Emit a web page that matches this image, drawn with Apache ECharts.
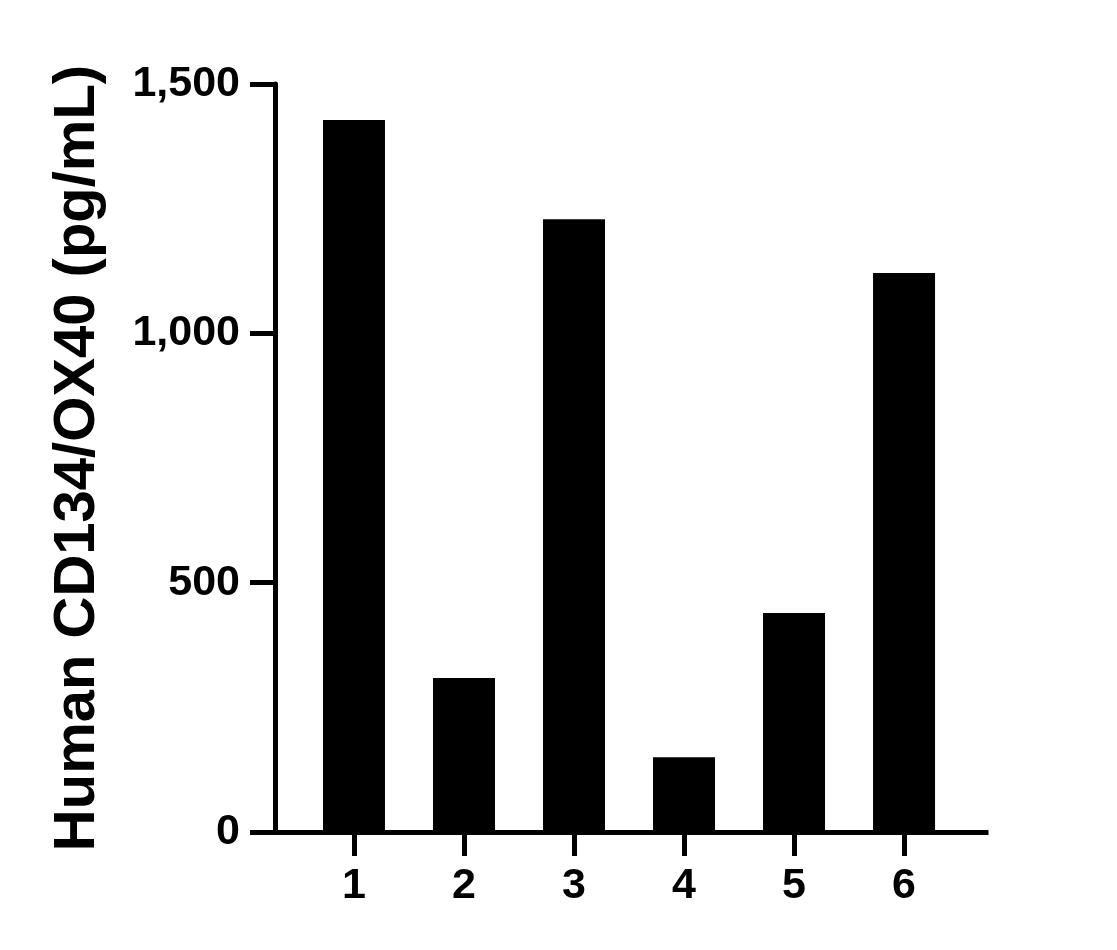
<!DOCTYPE html>
<html>
<head>
<meta charset="utf-8">
<script src="https://cdn.jsdelivr.net/npm/echarts@6/dist/echarts.min.js"></script>
<style>
html,body{margin:0;padding:0;background:#fff;}
#chart{width:1117px;height:950px;}
</style>
</head>
<body>
<div id="chart"></div>
<script>
var categories = [1, 2, 3, 4, 5, 6];
var values = [1428, 309, 1229, 150, 439, 1121];
var yTicks = [0, 500, 1000, 1500];
var yTitle = 'Human CD134/OX40 (pg/mL)';

var chart = echarts.init(document.getElementById('chart'));
var font = '"Liberation Sans", Arial, Helvetica, sans-serif';
chart.setOption({
  animation: false,
  backgroundColor: '#ffffff',
  grid: { left: 275, right: 131, top: 84, bottom: 118, containLabel: false },
  xAxis: {
    type: 'value',
    min: 0.282,
    max: 6.745,
    splitLine: { show: false },
    axisLine: { show: true, onZero: false, lineStyle: { color: '#000', width: 5, cap: 'square' } },
    axisTick: { show: true, length: 24, lineStyle: { color: '#000', width: 5 }, customValues: categories },
    axisLabel: {
      show: true, customValues: categories, margin: 33,
      color: '#000', fontSize: 43, fontWeight: 'bold', fontFamily: font,
      formatter: function (v) { return String(v); }
    }
  },
  yAxis: {
    type: 'value',
    min: 0,
    max: 1500,
    interval: 500,
    name: yTitle,
    nameLocation: 'middle',
    nameRotate: 90,
    nameGap: 168,
    nameTextStyle: { color: '#000', fontSize: 58, fontWeight: 'bold', fontFamily: font },
    splitLine: { show: false },
    axisLine: { show: true, lineStyle: { color: '#000', width: 5 } },
    axisTick: { show: true, length: 25, lineStyle: { color: '#000', width: 5 } },
    axisLabel: {
      margin: 35, color: '#000', fontSize: 43, fontWeight: 'bold', fontFamily: font,
      formatter: function (v) { return v.toLocaleString('en-US'); }
    }
  },
  series: [{
    type: 'bar',
    barWidth: 62,
    itemStyle: { color: '#000' },
    data: categories.map(function (c, i) { return [c, values[i]]; })
  }]
});
</script>
</body>
</html>
